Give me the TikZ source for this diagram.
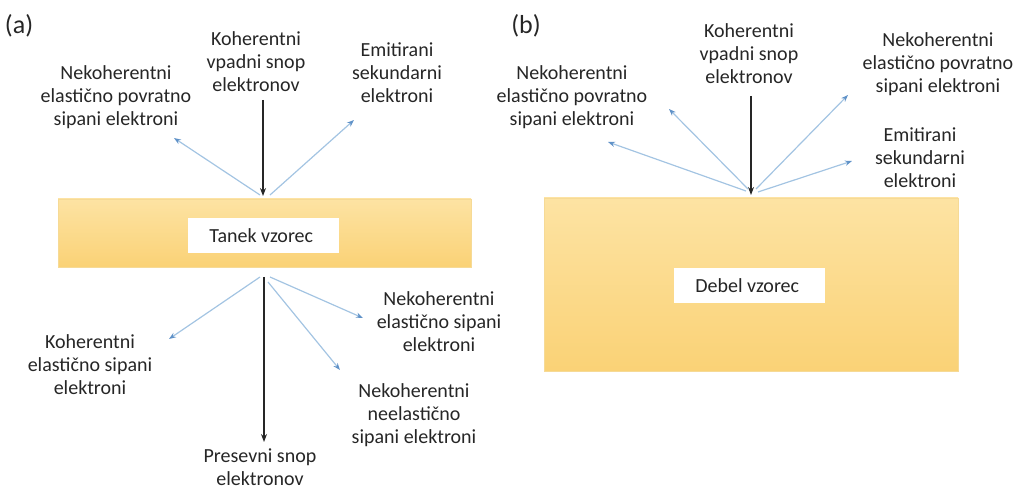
\documentclass[tikz,border=0pt]{standalone}
\usepackage{fontspec}
\setmainfont{Carlito}
\usetikzlibrary{positioning,arrows.meta}
\definecolor{slabtop}{RGB}{253,227,163}
\definecolor{slabbot}{RGB}{250,210,118}
\definecolor{slabedge}{RGB}{246,218,150}
\definecolor{scatline}{RGB}{163,196,226}
\definecolor{scattip}{RGB}{96,146,200}
\definecolor{ink}{RGB}{38,38,38}

\begin{document}
\begin{tikzpicture}[x = 0.5pt, y = -0.5pt,
    every node/.style = { align = center, inner sep = 0pt, text = ink, font = \fontsize{10}{11.5}\selectfont },
    panel/.style = { font = \fontsize{13}{15}\selectfont },
    slab/.style = { top color = slabtop, bottom color = slabbot, draw = slabedge, line width = .4pt },
    tag/.style = { fill = white, minimum width = 75.5pt, minimum height = 17.5pt },
    beam/.style = { draw = black!85, line width = .6pt, -{Stealth[length = 4pt, width = 3pt]} },
    scat/.style = { draw = scatline, line width = .6pt, -{Stealth[length = 3.5pt, width = 2.6pt, color = scattip]} }]
    \useasboundingbox (0,0) rectangle (1017,491);

    % (a) tanek vzorec
    \node [panel] (labA) at (22,26) { (a) };
    \node [slab, minimum width = 206.5pt, minimum height = 34pt] (slabA) at (264.5,233) {};
    \node [tag] (thin) at (263.5,235.5) { Tanek vzorec };
    \node (inA) at (256,62) { Koherentni\\ vpadni snop\\ elektronov };
    \node (backA) at (116,97) { Nekoherentni\\ elastično povratno\\ sipani elektroni };
    \node (emitA) at (397,73) { Emitirani\\ sekundarni\\ elektroni };
    \node (cohA) at (90,365) { Koherentni\\ elastično sipani\\ elektroni };
    \node (incA) at (439,322) { Nekoherentni\\ elastično sipani\\ elektroni };
    \node (inelA) at (414,415) { Nekoherentni\\ neelastično\\ sipani elektroni };
    \node (transA) at (260,467) { Presevni snop\\ elektronov };

    \coordinate (a0) at (263,100);  \coordinate (a1) at (263,196);
    \coordinate (a2) at (260,195);  \coordinate (a3) at (174,138);
    \coordinate (a4) at (270,195);  \coordinate (a5) at (354,120);
    \coordinate (a6) at (264,277);  \coordinate (a7) at (264,442);
    \coordinate (a8) at (260,277);  \coordinate (a9) at (169,339);
    \coordinate (a10) at (270,277); \coordinate (a11) at (363,318);
    \coordinate (a12) at (268,282); \coordinate (a13) at (340,370);

    \draw [beam] (a0) -- (a1);
    \draw [beam] (a6) -- (a7);
    \foreach \s/\e in {a2/a3, a4/a5, a8/a9, a10/a11, a12/a13}
      \draw [scat] (\s) -- (\e);

    % (b) debel vzorec
    \node [panel] (labB) at (529,26) { (b) };
    \node [slab, minimum width = 207pt, minimum height = 86.5pt] (slabB) at (751,284.5) {};
    \node [tag] (thick) at (749.5,285.5) { Debel vzorec };
    \node (inB) at (749,54) { Koherentni\\ vpadni snop\\ elektronov };
    \node (backB) at (572,97) { Nekoherentni\\ elastično povratno\\ sipani elektroni };
    \node (backC) at (938,64) { Nekoherentni\\ elastično povratno\\ sipani elektroni };
    \node (emitB) at (920,158) { Emitirani\\ sekundarni\\ elektroni };

    \coordinate (b0) at (751,96);  \coordinate (b1) at (751,195);
    \coordinate (b2) at (746,191); \coordinate (b3) at (608,142);
    \coordinate (b4) at (748,189); \coordinate (b5) at (669,109);
    \coordinate (b6) at (756,189); \coordinate (b7) at (848,95);
    \coordinate (b8) at (758,192); \coordinate (b9) at (852,161);

    \draw [beam] (b0) -- (b1);
    \foreach \s/\e in {b2/b3, b4/b5, b6/b7, b8/b9}
      \draw [scat] (\s) -- (\e);

\end{tikzpicture}
\end{document}
